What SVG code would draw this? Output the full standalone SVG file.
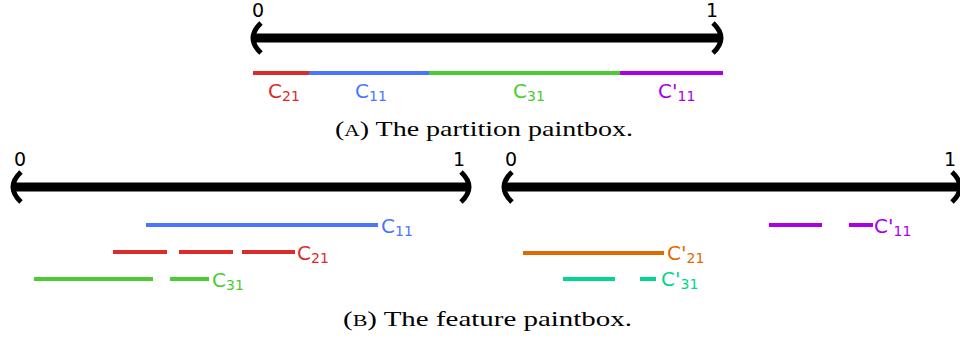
<svg xmlns="http://www.w3.org/2000/svg" width="960" height="339" viewBox="0 0 960 339">
<style>
.ax{stroke:#000;stroke-width:9;fill:none}
.br{stroke:#000;stroke-width:5;fill:none}
.tick{font-family:"DejaVu Sans",sans-serif;font-size:19px;fill:#000}
.lbl{font-family:"DejaVu Sans",sans-serif;font-size:20px}
.sub{font-size:14px}
.cap{font-family:"Liberation Serif","Times New Roman",serif;font-size:21px;fill:#000}
.bar{stroke-width:4;fill:none}
.red{stroke:#dc2b2b}.blue{stroke:#4a76ff}.green{stroke:#4ccc33}.purple{stroke:#aa00e6}.orange{stroke:#e06a00}.teal{stroke:#00d68c}
.tred{fill:#dc2b2b}.tblue{fill:#4a76ff}.tgreen{fill:#4ccc33}.tpurple{fill:#aa00e6}.torange{fill:#e06a00}.tteal{fill:#00d68c}
</style>
<g id="axisA">
<line class="ax" x1="252" y1="38" x2="721" y2="38"/>
<path class="br" d="M261,23 Q245,38 261,53"/>
<path class="br" d="M713,23 Q729,38 713,53"/>
<text class="tick" x="252" y="17">0</text>
<text class="tick" x="706" y="17">1</text>
</g>
<g id="partition">
<line class="bar red" x1="253" y1="73" x2="309" y2="73"/>
<line class="bar blue" x1="309" y1="73" x2="429" y2="73"/>
<line class="bar green" x1="429" y1="73" x2="620" y2="73"/>
<line class="bar purple" x1="620" y1="73" x2="723" y2="73"/>
<text class="lbl tred" x="268" y="98">C<tspan class="sub" dy="3">21</tspan></text>
<text class="lbl tblue" x="355" y="98">C<tspan class="sub" dy="3">11</tspan></text>
<text class="lbl tgreen" x="513" y="98">C<tspan class="sub" dy="3">31</tspan></text>
<text class="lbl tpurple" x="658" y="98">C'<tspan class="sub" dy="3">11</tspan></text>
</g>
<text id="capA" class="cap" x="335" y="136" textLength="298" lengthAdjust="spacingAndGlyphs">(<tspan font-size="16px">A</tspan>) The partition paintbox.</text>
<g id="axisB1">
<line class="ax" x1="13" y1="187" x2="469" y2="187"/>
<path class="br" d="M21,172 Q5,187 21,202"/>
<path class="br" d="M461,172 Q477,187 461,202"/>
<text class="tick" x="14" y="166">0</text>
<text class="tick" x="453" y="166">1</text>
</g>
<g id="featuresB1">
<line class="bar blue" x1="146" y1="225" x2="378" y2="225"/>
<text class="lbl tblue" x="381" y="233">C<tspan class="sub" dy="3">11</tspan></text>
<line class="bar red" x1="113" y1="252" x2="167" y2="252"/>
<line class="bar red" x1="179" y1="252" x2="233" y2="252"/>
<line class="bar red" x1="242" y1="252" x2="295" y2="252"/>
<text class="lbl tred" x="297" y="260">C<tspan class="sub" dy="3">21</tspan></text>
<line class="bar green" x1="34" y1="279" x2="153" y2="279"/>
<line class="bar green" x1="170" y1="279" x2="209" y2="279"/>
<text class="lbl tgreen" x="212" y="287">C<tspan class="sub" dy="3">31</tspan></text>
</g>
<g id="axisB2">
<line class="ax" x1="505" y1="187" x2="960" y2="187"/>
<path class="br" d="M512,172 Q496,187 512,202"/>
<path class="br" d="M952,172 Q968,187 952,202"/>
<text class="tick" x="505" y="166">0</text>
<text class="tick" x="944" y="166">1</text>
</g>
<g id="featuresB2">
<line class="bar purple" x1="769" y1="225" x2="822" y2="225"/>
<line class="bar purple" x1="849" y1="225" x2="873" y2="225"/>
<text class="lbl tpurple" x="874" y="233">C'<tspan class="sub" dy="3">11</tspan></text>
<line class="bar orange" x1="523" y1="253" x2="664" y2="253"/>
<text class="lbl torange" x="667" y="260">C'<tspan class="sub" dy="3">21</tspan></text>
<line class="bar teal" x1="563" y1="279" x2="615" y2="279"/>
<line class="bar teal" x1="640" y1="279" x2="656" y2="279"/>
<text class="lbl tteal" x="661" y="286">C'<tspan class="sub" dy="3">31</tspan></text>
</g>
<text id="capB" class="cap" x="343" y="326" textLength="289" lengthAdjust="spacingAndGlyphs">(<tspan font-size="16px">B</tspan>) The feature paintbox.</text>
</svg>
